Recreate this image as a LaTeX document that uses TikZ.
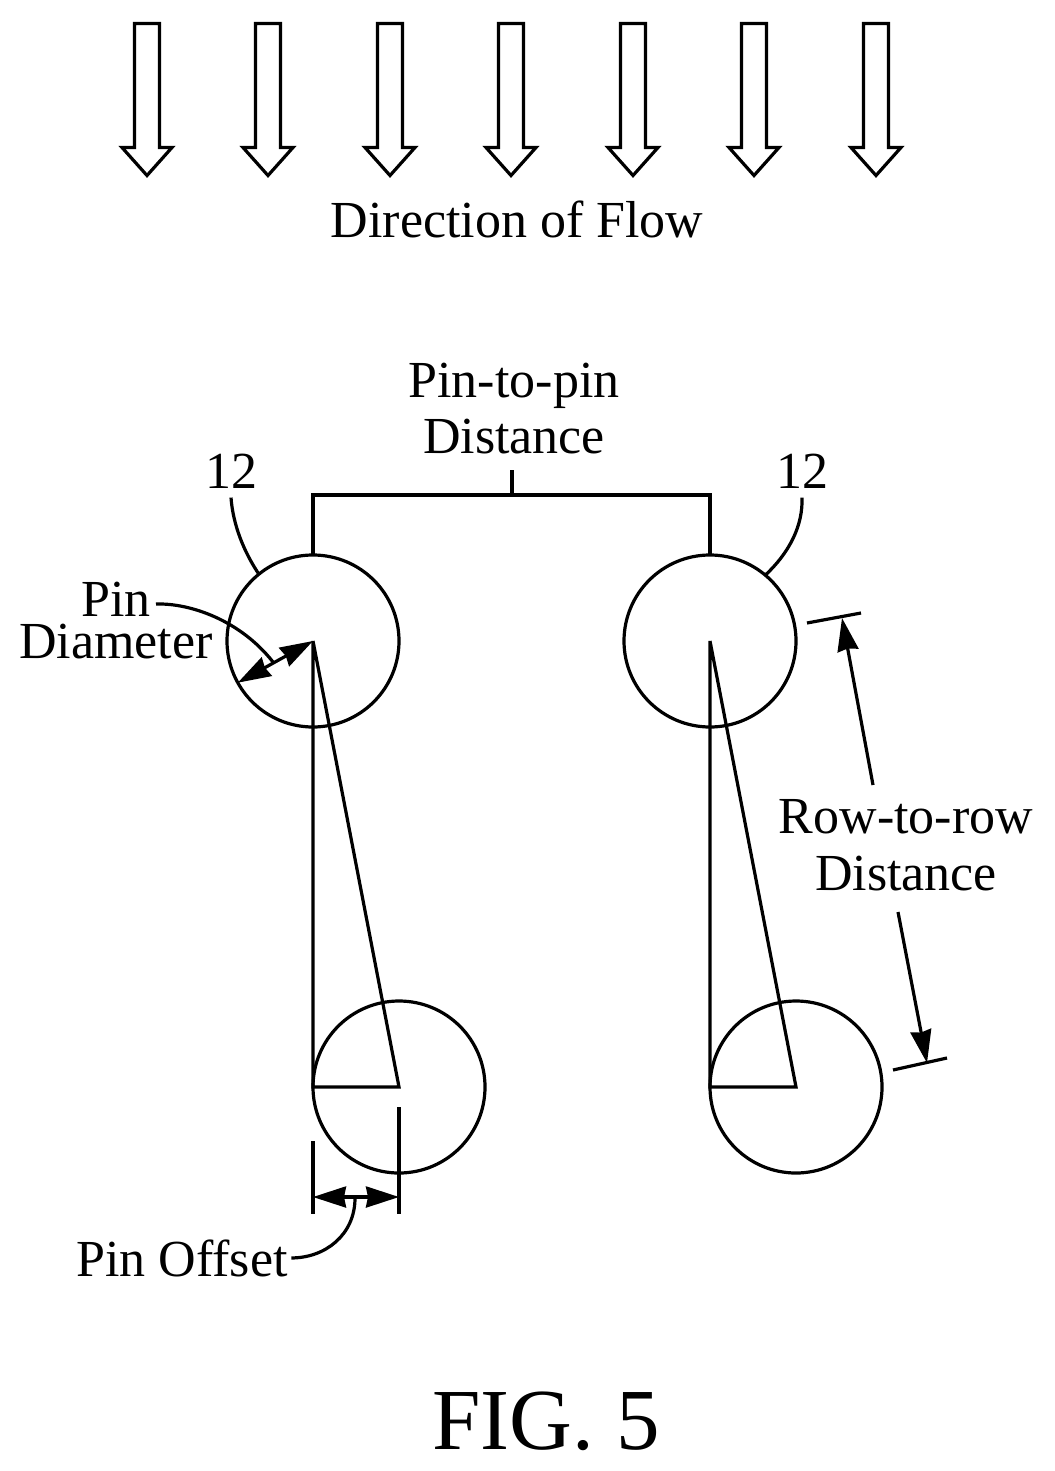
\documentclass[tikz,border=0pt]{standalone}
\usepackage{fontspec}
\setmainfont{Liberation Serif}
\usetikzlibrary{arrows.meta}

\tikzset{
  every path/.style={line width=3.2pt},
  pin/.style={draw,circle,inner sep=0pt,outer sep=0pt,minimum size=172pt},
  lbl/.style={font=\fontsize{52}{57}\selectfont,inner sep=2pt,anchor=base,align=center},
  num/.style={lbl,inner sep=8pt},
  dim/.style={{Stealth[length=33pt,width=21pt,inset=2pt]}-{Stealth[length=33pt,width=21pt,inset=2pt]}},
  dimend/.style={-{Stealth[length=33pt,width=21pt,inset=2pt]}},
}

\begin{document}
\begin{tikzpicture}[x=1pt,y=-1pt]
  \useasboundingbox (0,0) rectangle (1054,1471);
  % flow arrows
  \foreach \x in {147,268,390,511,633,754,876}
    \draw (\x-12.5,23.5) -- (\x+12.5,23.5) -- (\x+12.5,147.5) -- (\x+25,147.5) -- (\x,175.5)
      -- (\x-25,147.5) -- (\x-12.5,147.5) -- cycle;
  \node[lbl] (flow) at (517,238) {Direction of Flow};
  % pins
  \node[pin] (pinA) at (313,641) {};
  \node[pin] (pinB) at (710,641) {};
  \node[pin] (pinC) at (399,1087) {};
  \node[pin] (pinD) at (796,1087) {};
  % triangles
  \draw (pinA.center) -- (pinA.center |- pinC.center) -- (pinC.center) -- cycle;
  \draw (pinB.center) -- (pinB.center |- pinD.center) -- (pinD.center) -- cycle;
  % pin-to-pin
  \node[lbl,font=\fontsize{52}{56}\selectfont] (pitch) at (514,453) {Pin-to-pin\\Distance};
  \coordinate (pitchEnd) at (512,470);
  \draw (pinA.north) -- (313,495) -- (710,495) -- (pinB.north);
  \draw (pitchEnd) -- (512,495);
  % reference numerals
  \node[num] (numA) at (231,488) {12};
  \node[num] (numB) at (802,488) {12};
  \draw (numA.south) .. controls (233,525) and (244,552) .. (pinA.129);
  \draw (numB.south) .. controls (803,525) and (790,552) .. (pinB.50);
  % pin diameter
  \node[lbl,font=\fontsize{52}{42}\selectfont] (diam) at (116,658) {Pin\\Diameter};
  \coordinate (diamEnd) at (156,604);
  \coordinate (diamTip) at (273,662);
  \draw (diamEnd) .. controls (190,603) and (240,620) .. (diamTip);
  \draw[dim] (pinA.209) -- (pinA.center);
  % pin offset
  \coordinate (offTopA) at (313,1141);
  \coordinate (offBotA) at (313,1214);
  \coordinate (offTopB) at (399,1107);
  \coordinate (offBotB) at (399,1214);
  \coordinate (offA) at (313,1197);
  \coordinate (offB) at (399,1197);
  \coordinate (offTip) at (355,1198);
  \draw (offTopA) -- (offBotA);
  \draw (offTopB) -- (offBotB);
  \draw[dim] (offA) -- (offB);
  \node[lbl] (offset) at (182,1276) {Pin Offset};
  \draw (offset.east) .. controls (325,1258) and (355,1235) .. (offTip);
  % row-to-row
  \coordinate (rowTa) at (807,623);
  \coordinate (rowTb) at (861,613);
  \coordinate (rowBa) at (893,1070);
  \coordinate (rowBb) at (947,1058);
  \coordinate (rowTipA) at (842,618);
  \coordinate (rowTipB) at (927,1063);
  \coordinate (rowTailA) at (873,785);
  \coordinate (rowTailB) at (898,912);
  \draw (rowTa) -- (rowTb);
  \draw (rowBa) -- (rowBb);
  \draw[dimend] (rowTailA) -- (rowTipA);
  \draw[dimend] (rowTailB) -- (rowTipB);
  \node[lbl] (row) at (906,890) {Row-to-row\\Distance};
  % figure label
  \node[lbl,font=\fontsize{87}{90}\selectfont] (fig) at (546,1449) {FIG. 5};
\end{tikzpicture}
\end{document}
